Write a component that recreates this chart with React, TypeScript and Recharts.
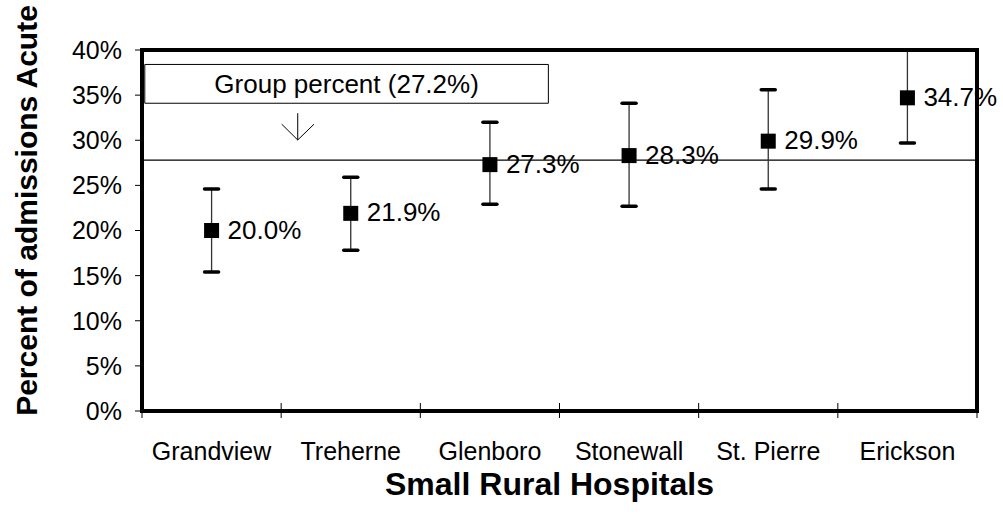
import React from 'react';
import {
  ComposedChart,
  Scatter,
  XAxis,
  YAxis,
  ErrorBar,
  ReferenceLine,
  ReferenceArea,
  Label,
} from 'recharts';

const FONT = '"Liberation Sans", Arial, Helvetica, sans-serif';

// ---- data ----
const hospitals = ['Grandview', 'Treherne', 'Glenboro', 'Stonewall', 'St. Pierre', 'Erickson'];
const percent = [20.0, 21.9, 27.3, 28.3, 29.9, 34.7];
const lower = [15.4, 17.8, 22.9, 22.7, 24.6, 29.7];
const upper = [24.6, 25.9, 32.0, 34.1, 35.6, 40.0];
const yTicks = [0, 5, 10, 15, 20, 25, 30, 35, 40];
const groupLabel = 'Group percent (27.2%)';
const groupLineValue = 27.8;
const boundaryTicks = [0, 1, 2, 3, 4, 5, 6];

const data = hospitals.map((name, i) => ({
  name,
  pos: i + 0.5,
  pct: percent[i],
  lo: lower[i],
  hi: upper[i],
  err: [percent[i] - lower[i], upper[i] - percent[i]],
}));

const MeanShape = (props: any) => {
  const { cx, cy, payload } = props;
  if (cx == null || cy == null) return null;
  return (
    <g>
      <rect x={cx - 7.5} y={cy - 7.5} width={15} height={15} fill="#000" />
      <text x={cx + 16} y={cy + 8} fontSize={26} fontFamily={FONT} fill="#000">
        {payload.pct.toFixed(1)}%
      </text>
    </g>
  );
};

const CapShape = (props: any) => {
  const { cx, cy } = props;
  if (cx == null || cy == null) return null;
  return (
    <line x1={cx - 7} x2={cx + 7} y1={cy} y2={cy} stroke="#000" strokeWidth={3.5} strokeLinecap="round" />
  );
};

const BoundaryTick = (props: any) => {
  const { x, y } = props;
  return <line x1={x} x2={x} y1={y - 16} y2={y - 1} stroke="#000" strokeWidth={1} />;
};

export default function App() {
  return (
    <div style={{ position: 'absolute', left: 0, top: 0, background: '#fff' }}>
      <ComposedChart
        width={1003}
        height={520}
        data={data}
        margin={{ top: 50, right: 26, bottom: 0, left: 0 }}
      >
        <XAxis
          xAxisId="a"
          dataKey="pos"
          type="number"
          domain={[0, 6]}
          ticks={boundaryTicks}
          height={8}
          axisLine={false}
          tickLine={false}
          tickSize={7}
          tickMargin={1}
          tick={BoundaryTick}
          interval={0}
        />
        <XAxis
          xAxisId="b"
          dataKey="name"
          type="category"
          scale="band"
          height={101}
          axisLine={false}
          tickLine={false}
          tickSize={0}
          tickMargin={23}
          interval={0}
          tick={{ fontSize: 25, fill: '#000', fontFamily: FONT }}
        >
          <Label
            content={(p: any) => {
              const vb = p.viewBox;
              return (
                <text
                  x={vb.x + vb.width / 2 - 10}
                  y={vb.y + 76}
                  textAnchor="middle"
                  fontSize={32}
                  fontWeight="bold"
                  fontFamily={FONT}
                  fill="#000"
                >
                  Small Rural Hospitals
                </text>
              );
            }}
          />
        </XAxis>
        <YAxis
          type="number"
          domain={[0, 40]}
          ticks={yTicks}
          width={142}
          axisLine={false}
          tickLine={{ stroke: '#000', strokeWidth: 1 }}
          tickSize={7}
          tickMargin={13}
          tickFormatter={(v: number) => `${v}%`}
          tick={{ fontSize: 25, fill: '#000', fontFamily: FONT }}
        >
          <Label
            content={(p: any) => {
              const vb = p.viewBox;
              const x = vb.x + 37;
              const y = vb.y + vb.height / 2 - 20;
              return (
                <text
                  x={x}
                  y={y}
                  transform={`rotate(-90 ${x} ${y})`}
                  textAnchor="middle"
                  fontSize={30}
                  fontWeight="bold"
                  fontFamily={FONT}
                  fill="#000"
                >
                  Percent of admissions Acute
                </text>
              );
            }}
          />
        </YAxis>

        <ReferenceLine xAxisId="a" y={groupLineValue} stroke="#000" strokeWidth={1.2} />

        <ReferenceArea
          xAxisId="a"
          x1={0.02}
          x2={2.92}
          y1={34.1}
          y2={38.4}
          fill="#fff"
          fillOpacity={1}
          stroke="#000"
          strokeWidth={1}
          label={{ value: groupLabel, position: 'center', fontSize: 26, fill: '#000', fontFamily: FONT }}
        />
        <ReferenceLine xAxisId="a" segment={[{ x: 1.119, y: 33.0 }, { x: 1.119, y: 30.03 }]} stroke="#000" strokeWidth={1} />
        <ReferenceLine xAxisId="a" segment={[{ x: 1.004, y: 31.78 }, { x: 1.119, y: 30.03 }]} stroke="#000" strokeWidth={1} />
        <ReferenceLine xAxisId="a" segment={[{ x: 1.236, y: 31.78 }, { x: 1.119, y: 30.03 }]} stroke="#000" strokeWidth={1} />

        <Scatter xAxisId="a" dataKey="hi" shape={CapShape} isAnimationActive={false} />
        <Scatter xAxisId="a" dataKey="lo" shape={CapShape} isAnimationActive={false} />
        <Scatter xAxisId="a" dataKey="pct" shape={MeanShape} isAnimationActive={false}>
          <ErrorBar dataKey="err" direction="y" width={0} stroke="#333" strokeWidth={1.3} />
        </Scatter>

        <ReferenceArea
          xAxisId="a"
          x1={0}
          x2={6}
          y1={0}
          y2={40}
          fill="none"
          stroke="#000"
          strokeWidth={4}
          ifOverflow="visible"
        />
      </ComposedChart>
    </div>
  );
}
